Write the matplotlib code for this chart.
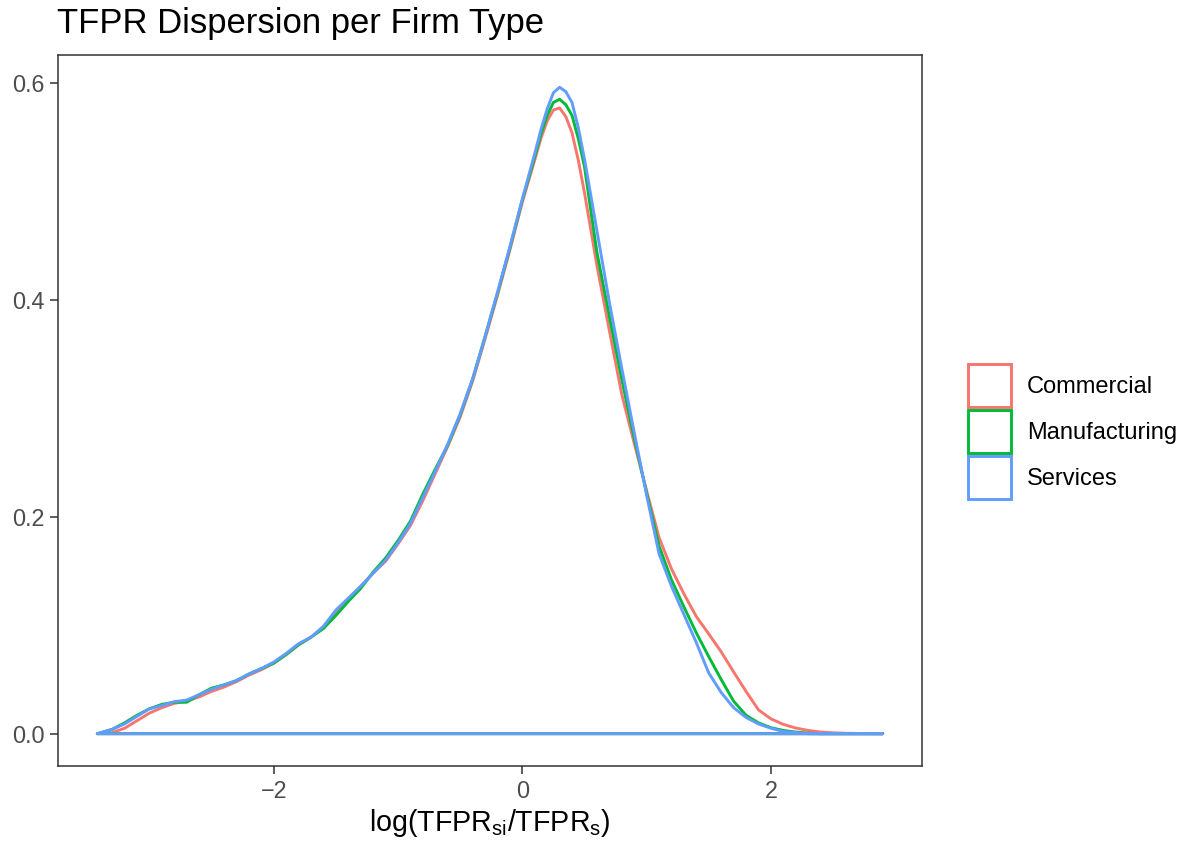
import matplotlib
matplotlib.use("Agg")
import matplotlib.pyplot as plt
from matplotlib.patches import Patch
from matplotlib.legend_handler import HandlerPatch

plt.rcParams["font.family"] = ["Liberation Sans", "DejaVu Sans"]
plt.rcParams["mathtext.fontset"] = "custom"
plt.rcParams["mathtext.rm"] = "Liberation Sans"
plt.rcParams["mathtext.it"] = "Liberation Sans:italic"
plt.rcParams["axes.unicode_minus"] = True

# density estimates
x = [-3.42, -3.3, -3.2, -3.1, -3.0, -2.9, -2.8, -2.7, -2.6, -2.5,
     -2.4, -2.3, -2.2, -2.1, -2.0, -1.9, -1.8, -1.7, -1.6, -1.5,
     -1.4, -1.3, -1.2, -1.1, -1.0, -0.9, -0.8, -0.7, -0.6, -0.5,
     -0.4, -0.3, -0.2, -0.1, 0.0, 0.1, 0.15, 0.2, 0.25, 0.3,
     0.35, 0.4, 0.45, 0.5, 0.6, 0.7, 0.8, 0.9, 1.0, 1.1,
     1.2, 1.3, 1.4, 1.5, 1.6, 1.7, 1.8, 1.9, 2.0, 2.1,
     2.2, 2.3, 2.4, 2.5, 2.6, 2.7, 2.9]

commercial = [0.0, 0.001, 0.005, 0.012, 0.019, 0.024, 0.028, 0.030, 0.034, 0.039,
              0.043, 0.048, 0.054, 0.059, 0.065, 0.073, 0.082, 0.089, 0.098, 0.112,
              0.124, 0.136, 0.148, 0.159, 0.175, 0.192, 0.215, 0.240, 0.265, 0.292,
              0.325, 0.364, 0.404, 0.446, 0.490, 0.529, 0.549, 0.565, 0.575, 0.577,
              0.569, 0.554, 0.529, 0.499, 0.432, 0.372, 0.313, 0.268, 0.224, 0.181,
              0.152, 0.129, 0.108, 0.092, 0.0755, 0.057, 0.039, 0.022, 0.0137, 0.0086,
              0.0052, 0.003, 0.0015, 0.0008, 0.0004, 0.0002, 0.0]

manufacturing = [0.0, 0.004, 0.010, 0.017, 0.023, 0.027, 0.029, 0.029, 0.036, 0.042,
                 0.045, 0.049, 0.055, 0.060, 0.065, 0.073, 0.082, 0.089, 0.097, 0.109,
                 0.122, 0.134, 0.149, 0.162, 0.178, 0.196, 0.221, 0.244, 0.266, 0.294,
                 0.327, 0.366, 0.406, 0.448, 0.492, 0.532, 0.553, 0.570, 0.582, 0.585,
                 0.580, 0.570, 0.549, 0.523, 0.444, 0.385, 0.327, 0.273, 0.222, 0.173,
                 0.142, 0.117, 0.093, 0.071, 0.050, 0.030, 0.017, 0.010, 0.0055, 0.003,
                 0.0015, 0.0005, 0.0, 0.0, 0.0, 0.0, 0.0]

services = [0.0, 0.004, 0.009, 0.016, 0.023, 0.026, 0.0295, 0.031, 0.036, 0.041,
            0.045, 0.049, 0.055, 0.060, 0.066, 0.074, 0.083, 0.089, 0.099, 0.114,
            0.125, 0.136, 0.148, 0.160, 0.176, 0.194, 0.218, 0.242, 0.267, 0.295,
            0.327, 0.366, 0.407, 0.449, 0.493, 0.535, 0.557, 0.576, 0.591, 0.596,
            0.592, 0.582, 0.559, 0.530, 0.464, 0.398, 0.337, 0.278, 0.220, 0.166,
            0.136, 0.110, 0.084, 0.056, 0.038, 0.024, 0.015, 0.009, 0.005, 0.002,
            0.001, 0.0, 0.0, 0.0, 0.0, 0.0, 0.0]

labels = ["Commercial", "Manufacturing", "Services"]
colors = ["#F8766D", "#00BA38", "#619CFF"]

fig = plt.figure(figsize=(11.92, 8.46), dpi=100)
ax = fig.add_axes([58 / 1192, 1 - 766 / 846, 864 / 1192, 711 / 846])

for ys, c in zip([commercial, manufacturing, services], colors):
    # closed outline like geom_density (curve plus baseline)
    ax.fill(x, ys, facecolor="none", edgecolor=c, linewidth=2.1,
            joinstyle="round")

ax.margins(x=0.05, y=0.05)
ax.set_xticks([-2, 0, 2])
ax.set_yticks([0.0, 0.2, 0.4, 0.6])
ax.set_yticklabels(["0.0", "0.2", "0.4", "0.6"])

for sp in ax.spines.values():
    sp.set_color("#333333")
    sp.set_linewidth(1.1)
ax.tick_params(axis="both", colors="#333333", length=5.8, width=1.1,
               labelsize=16.8, labelcolor="#4D4D4D", pad=4)

ax.set_xlabel(r"log(TFPR$_{\mathrm{si}}$/TFPR$_{\mathrm{s}}$)", fontsize=20.6,
              color="black", labelpad=3)

fig.text(57 / 1192, 1 - 33 / 846, "TFPR Dispersion per Firm Type",
         fontsize=24.9, color="black", ha="left", va="baseline")

handles = [Patch(facecolor="white", edgecolor=c, linewidth=2.1) for c in colors]
fig.legend(handles, labels, loc="center left",
           bbox_to_anchor=(968 / 1192, 1 - 431.5 / 846),
           handler_map={Patch: HandlerPatch(ypad=0)},
           frameon=False, fontsize=17, handlelength=1.82, handleheight=2.426,
           labelspacing=0.13, handletextpad=0.68, borderpad=0, borderaxespad=0)

fig.savefig("out.png", dpi=100)
